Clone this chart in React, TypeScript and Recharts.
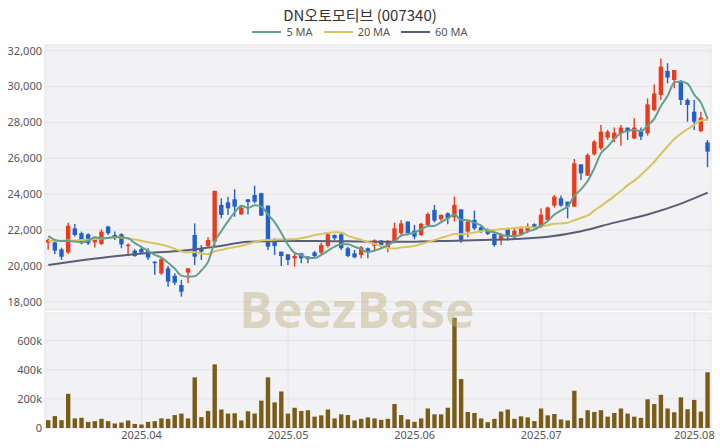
import React from 'react';
import { ComposedChart, Bar, Line, XAxis, YAxis, CartesianGrid } from 'recharts';

// trading days per month
const MONTH_DAYS: [string, number[]][] = [
  ['2025-03', [12, 13, 14, 17, 18, 19, 20, 21, 24, 25, 26, 27, 28, 31]],
  ['2025-04', [1, 2, 3, 4, 7, 8, 9, 10, 11, 14, 15, 16, 17, 18, 21, 22, 23, 24, 25, 28, 29, 30]],
  ['2025-05', [2, 7, 8, 9, 12, 13, 14, 15, 16, 19, 20, 21, 22, 23, 26, 27, 28, 29, 30]],
  ['2025-06', [2, 4, 5, 9, 10, 11, 12, 13, 16, 17, 18, 19, 20, 23, 24, 25, 26, 27, 30]],
  ['2025-07', [1, 2, 3, 4, 7, 8, 9, 10, 11, 14, 15, 16, 17, 18, 21, 22, 23, 24, 25, 28, 29, 30, 31]],
  ['2025-08', [1, 4, 5]],
];

const OPEN = [
  21300, 21310, 20920, 20750, 22090, 21820, 21760, 21310, 21220, 22190,
  21720, 21760, 21100, 20850, 20940, 20830, 20230, 19580, 19860, 19450,
  18930, 19620, 21720, 20980, 21110, 21350, 23400, 23540, 23710, 22870,
  23710, 23950, 24050, 23360, 21440, 20790, 20640, 20420, 20700, 20510,
  20750, 20740, 21110, 21720, 21760, 20980, 20700, 20610, 20980, 21120,
  21410, 20980, 21350, 21820, 22470, 21960, 21720, 22280, 23120, 22600,
  22930, 22710, 23150, 21910, 22560, 22150, 22040, 21780, 21440, 22040,
  21590, 21760, 21960, 22320, 22240, 22560, 23360, 23770, 23580, 23300,
  25660, 25030, 26220, 26560, 27150, 27080, 27390, 27710, 27110, 27580,
  27390, 28690, 29530, 30870, 30370, 30270, 29250, 28600, 27520, 26890,
];
const HIGH = [
  21530, 21440, 21010, 22410, 22340, 21910, 21820, 21630, 22040, 22240,
  21910, 21820, 21250, 20920, 21070, 20980, 20250, 20480, 19990, 19580,
  19210, 19860, 22370, 21160, 21590, 24190, 23770, 23860, 24270, 23300,
  23710, 24470, 24080, 23360, 21540, 20790, 20640, 20700, 20700, 20550,
  20830, 21290, 21820, 21760, 21820, 21070, 20890, 21110, 21030, 21480,
  21440, 21440, 22410, 22560, 22470, 22280, 22410, 22970, 23400, 22870,
  22970, 23860, 23150, 22560, 23080, 22220, 22090, 21820, 21820, 22130,
  22090, 22190, 22370, 22370, 23210, 23300, 23950, 23920, 23580, 25960,
  25660, 26280, 27000, 27860, 27580, 27710, 27860, 27710, 28230, 27710,
  29340, 30120, 31570, 31300, 30920, 30370, 29340, 29250, 28600, 27020,
];
const LOW = [
  20900, 20660, 20330, 20660, 21630, 21200, 21160, 21030, 21160, 21720,
  21440, 20980, 20550, 20510, 20660, 20330, 19500, 19490, 18840, 18930,
  18280, 19030, 20050, 20330, 21070, 21070, 22650, 22840, 22740, 22840,
  22870, 23490, 22800, 20890, 20610, 19990, 20050, 19960, 20140, 20140,
  20480, 20610, 21030, 21440, 20890, 20480, 20420, 20420, 20420, 20800,
  20980, 20760, 21260, 21720, 21820, 21480, 21670, 22190, 22430, 22470,
  22320, 22470, 21290, 21590, 22000, 21820, 21720, 21070, 21160, 21410,
  21540, 21720, 21820, 22000, 22100, 22470, 23250, 23300, 22650, 23300,
  24790, 25030, 26150, 26460, 27020, 26890, 26700, 27020, 27080, 27020,
  27260, 28640, 29250, 30180, 29900, 28970, 28040, 27580, 27450, 25500,
];
const CLOSE = [
  21450, 20850, 20510, 22240, 21720, 21260, 21260, 21500, 21910, 21820,
  21570, 21200, 21180, 20550, 20740, 20460, 20150, 20380, 19120, 19060,
  18560, 19860, 20510, 20790, 21440, 24180, 22840, 23210, 23300, 23250,
  23560, 23580, 22800, 21070, 21110, 20550, 20330, 20550, 20420, 20370,
  20550, 21160, 21760, 21540, 20980, 20550, 20480, 21030, 20790, 21420,
  21160, 21390, 22090, 22370, 21820, 21630, 22340, 22890, 22520, 22840,
  22650, 23400, 21390, 22470, 22090, 21910, 21780, 21160, 21720, 21720,
  21960, 22090, 22190, 22150, 22850, 23250, 23860, 23360, 23300, 25720,
  25160, 26180, 26930, 27480, 27480, 27430, 27710, 27520, 27710, 27210,
  29010, 29620, 31110, 30500, 30920, 29250, 28970, 28040, 28270, 26370,
];
const VOLUME_K = [
  54, 82, 54, 235, 66, 70, 42, 47, 63, 47,
  31, 38, 52, 28, 24, 42, 47, 66, 63, 89,
  99, 66, 348, 75, 117, 437, 127, 99, 101, 52,
  115, 99, 188, 348, 176, 251, 99, 139, 117, 122,
  78, 87, 127, 66, 94, 89, 52, 63, 73, 66,
  56, 63, 165, 89, 59, 42, 66, 134, 94, 94,
  139, 757, 336, 110, 103, 66, 40, 63, 113, 127,
  63, 80, 73, 47, 134, 87, 96, 59, 52, 256,
  68, 122, 110, 122, 78, 103, 134, 99, 78, 70,
  197, 165, 228, 134, 108, 211, 129, 193, 113, 383,
];
const MA5 = [
  21660, 21450, 21380, 21380, 21354, 21316, 21398, 21596, 21530, 21549,
  21611, 21599, 21535, 21263, 21048, 20826, 20616, 20456, 20170, 19834,
  19454, 19396, 19422, 19756, 20232, 21356, 21952, 22492, 22994, 23356,
  23232, 23380, 23298, 22852, 22424, 21822, 21172, 20722, 20592, 20444,
  20444, 20610, 20852, 21076, 21198, 21198, 21062, 20916, 20766, 20854,
  20976, 21158, 21370, 21686, 21765, 21859, 22048, 22208, 22238, 22443,
  22647, 22859, 22559, 22548, 22398, 22250, 21927, 21881, 21732, 21658,
  21668, 21730, 21936, 22022, 22248, 22506, 22860, 23094, 23324, 23898,
  24280, 24744, 25458, 26294, 26646, 27100, 27406, 27524, 27570, 27516,
  27832, 28214, 28932, 29490, 30232, 30280, 30150, 29536, 29090, 28180,
];
const MA20 = [
  21390, 21400, 21400, 21420, 21420, 21440, 21460, 21490, 21530, 21570,
  21590, 21570, 21530, 21470, 21390, 21320, 21250, 21180, 21080, 20946,
  20802, 20752, 20752, 20680, 20666, 20812, 20891, 20976, 21046, 21118,
  21217, 21336, 21417, 21443, 21462, 21466, 21475, 21484, 21549, 21614,
  21714, 21779, 21841, 21879, 21856, 21674, 21556, 21447, 21322, 21230,
  21110, 21001, 20965, 21030, 21065, 21119, 21220, 21337, 21442, 21565,
  21670, 21782, 21763, 21810, 21865, 21933, 21998, 22005, 22051, 22066,
  22106, 22141, 22146, 22135, 22187, 22268, 22344, 22368, 22407, 22551,
  22676, 22815, 23092, 23343, 23613, 23889, 24185, 24503, 24752, 25077,
  25429, 25806, 26252, 26669, 27073, 27373, 27628, 27862, 28111, 28143,
];
// 60 MA read at sample days: [day index, value]
const MA60_READ: [number, number][] = [
  [0, 20050], [5, 20310], [10, 20540], [15, 20720], [20, 20840], [25, 21060],
  [30, 21340], [35, 21390], [40, 21390], [45, 21370], [50, 21340], [55, 21350],
  [60, 21390], [65, 21440], [70, 21500], [75, 21620], [80, 21930], [85, 22410],
  [90, 22860], [95, 23470], [99, 24080],
];

const PRICE_TICKS = [18000, 20000, 22000, 24000, 26000, 28000, 30000, 32000];
const VOLUME_TICKS = [0, 200000, 400000, 600000];
const TOP_GRID_DAYS = ['2025-04-09', '2025-05-13', '2025-06-11', '2025-07-09'];
const MONTH_TICKS = ['2025-04-01', '2025-05-02', '2025-06-02', '2025-07-01', '2025-08-01'];

const UP = '#ea3c1c';
const DOWN = '#2160cc';
const FONT = '"Noto Sans", "Noto Sans CJK KR", sans-serif';

const dates = MONTH_DAYS.flatMap(([m, ds]) => ds.map((d) => `${m}-${String(d).padStart(2, '0')}`));
const ma60Map = new Map(MA60_READ);

const rows = dates.map((date, i) => ({
  date,
  open: OPEN[i],
  high: HIGH[i],
  low: LOW[i],
  close: CLOSE[i],
  range: [LOW[i], HIGH[i]],
  volume: VOLUME_K[i] * 1000,
  ma5: MA5[i],
  ma20: MA20[i],
  ma60: ma60Map.has(i) ? ma60Map.get(i) : null,
}));

function Candle(props: any) {
  const { x, y, width, height, payload } = props;
  const { open, close, high, low } = payload;
  const color = close >= open ? UP : DOWN;
  const k = high === low ? 0 : height / (high - low);
  const top = y + (high - Math.max(open, close)) * k;
  const bot = y + (high - Math.min(open, close)) * k;
  const cx = x + width / 2;
  return (
    <g>
      <line x1={cx} x2={cx} y1={y} y2={y + height} stroke={color} strokeWidth={1.4} />
      <rect x={cx - 2.2} y={top} width={4.4} height={Math.max(1, bot - top)} fill={color} />
    </g>
  );
}

const tickStyle = { fontSize: 11, fill: '#555', fontFamily: FONT };

export default function App() {
  return (
    <div style={{ position: 'absolute', left: 0, top: 0, width: 720, height: 448, background: '#fff', fontFamily: FONT }}>
      <div style={{ position: 'absolute', top: 5, width: 720, textAlign: 'center', fontSize: 15, lineHeight: '20px', color: '#333', fontFamily: '"Noto Sans CJK KR", sans-serif' }}>
        DN오토모티브 (007340)
      </div>
      <div style={{ position: 'absolute', top: 25, width: 720, display: 'flex', justifyContent: 'center', gap: 11, fontSize: 11, lineHeight: '14px', color: '#555' }}>
        {[
          ['5 MA', '#63a08b'],
          ['20 MA', '#d8c460'],
          ['60 MA', '#5a5f78'],
        ].map(([name, c]) => (
          <div key={name} style={{ display: 'flex', alignItems: 'center', gap: 5 }}>
            <div style={{ width: 29, height: 2, background: c }} />
            <span>{name}</span>
          </div>
        ))}
      </div>

      <div style={{ position: 'absolute', left: 0, top: 0 }}>
        <ComposedChart width={720} height={311} data={rows} margin={{ top: 45, right: 9, bottom: 1, left: 0 }}>
          <CartesianGrid fill="#f2f2f4" stroke="#e3e3e6" />
          <XAxis dataKey="date" ticks={TOP_GRID_DAYS} interval={0} height={0} tick={false} axisLine={false} tickLine={false} />
          <YAxis
            domain={[17537, 32318]}
            ticks={PRICE_TICKS}
            allowDataOverflow
            width={45}
            tickSize={0}
            tickMargin={3}
            axisLine={false}
            tickLine={false}
            tick={tickStyle}
            tickFormatter={(v: number) => v.toLocaleString('en-US')}
          />
          <Bar dataKey="range" shape={<Candle />} isAnimationActive={false} />
          <Line type="monotone" dataKey="ma60" stroke="#5a5f78" strokeWidth={2} dot={false} connectNulls isAnimationActive={false} />
          <Line type="monotone" dataKey="ma20" stroke="#d8c460" strokeWidth={2} dot={false} isAnimationActive={false} />
          <Line type="monotone" dataKey="ma5" stroke="#63a08b" strokeWidth={2} dot={false} isAnimationActive={false} />
        </ComposedChart>
      </div>

      <div style={{ position: 'absolute', left: 0, top: 311 }}>
        <ComposedChart width={720} height={137} data={rows} margin={{ top: 2, right: 9, bottom: 0, left: 0 }}>
          <CartesianGrid fill="#f2f2f4" stroke="#e3e3e6" />
          <XAxis
            dataKey="date"
            ticks={MONTH_TICKS}
            interval={0}
            height={20}
            tickSize={0}
            tickMargin={3}
            axisLine={false}
            tickLine={false}
            tick={tickStyle}
            tickFormatter={(d: string) => d.slice(0, 7).replace('-', '.')}
          />
          <YAxis
            domain={[0, 790000]}
            ticks={VOLUME_TICKS}
            allowDataOverflow
            width={45}
            tickSize={0}
            tickMargin={3}
            axisLine={false}
            tickLine={false}
            tick={tickStyle}
            tickFormatter={(v: number) => (v === 0 ? '0' : `${v / 1000}k`)}
          />
          <Bar dataKey="volume" fill="#7a5c17" barSize={4.4} isAnimationActive={false} />
        </ComposedChart>
      </div>

      <svg width={720} height={448} style={{ position: 'absolute', left: 0, top: 0, pointerEvents: 'none' }}>
        <text x={357} y={328} textAnchor="middle" fontSize={50} fontWeight={700} fontFamily='"Open Sans", sans-serif' fill="rgba(190,176,128,0.45)">
          BeezBase
        </text>
      </svg>
    </div>
  );
}
